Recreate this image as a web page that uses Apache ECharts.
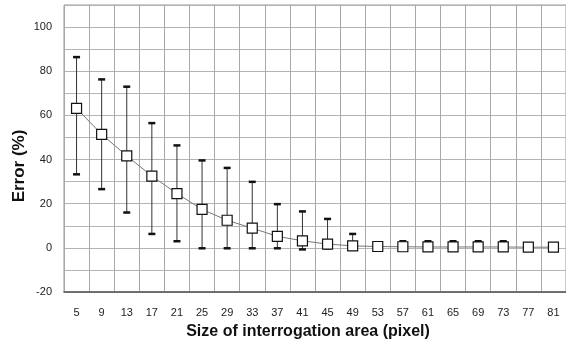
<!DOCTYPE html>
<html>
<head>
<meta charset="utf-8">
<script src="https://cdn.jsdelivr.net/npm/echarts@6/dist/echarts.min.js"></script>
<style>
  html, body { margin: 0; padding: 0; background: #fff; }
  #chart { width: 566px; height: 346px; }
</style>
</head>
<body>
<div id="chart"></div>
<script>
// Interrogation area sizes (pixel)
const sizes = ['5', '9', '13', '17', '21', '25', '29', '33', '37', '41',
               '45', '49', '53', '57', '61', '65', '69', '73', '77', '81'];
// Mean error (%)
const meanError = [63.2, 51.4, 41.7, 32.5, 24.6, 17.4, 12.5, 8.9, 5.2, 3.2,
                   1.7, 0.9, 0.6, 0.5, 0.4, 0.4, 0.4, 0.4, 0.3, 0.3];
// Upper and lower error-bar limits (%)
const upperError = [86.4, 76.3, 73.0, 56.5, 46.4, 39.6, 36.2, 29.9, 19.8, 16.5,
                    13.1, 6.3, 2.5, 3.0, 3.0, 3.0, 3.0, 3.0, 1.5, 1.5];
const lowerError = [33.3, 26.6, 16.0, 6.3, 3.0, -0.2, -0.2, -0.2, -0.2, -0.7,
                    -0.2, -0.2, -1.2, -1.0, -1.0, -1.0, -1.0, -1.0, -0.8, -0.8];
// Y axis range and labelled ticks
const yMin = -20, yMax = 110, yStep = 10, yLabelStep = 20;

const chart = echarts.init(document.getElementById('chart'), null, { renderer: 'canvas' });

const barData = sizes.map((s, i) => [i, lowerError[i], upperError[i]]);

const option = {
  animation: false,
  backgroundColor: '#ffffff',
  textStyle: { fontFamily: 'Liberation Sans, Arial, sans-serif' },
  grid: {
    left: 64, top: 5, width: 504, height: 287,
    show: true, borderColor: '#9a9a9a', borderWidth: 1
  },
  xAxis: {
    type: 'category',
    data: sizes,
    boundaryGap: true,
    axisLine: { show: true, onZero: false, lineStyle: { color: '#555', width: 1.5 } },
    axisTick: { show: false },
    axisLabel: { color: '#222', fontSize: 11, margin: 15, interval: 0,
                 fontFamily: 'Liberation Sans' },
    splitLine: { show: true, interval: 0, lineStyle: { color: '#a8a8a8', width: 1 } }
  },
  yAxis: {
    type: 'value',
    min: yMin, max: yMax, interval: yStep,
    axisLine: { show: false },
    axisTick: { show: false },
    axisLabel: {
      color: '#222', fontSize: 11, margin: 12, fontFamily: 'Liberation Sans',
      formatter: v => (v % yLabelStep === 0 && v <= 100) ? String(v) : ''
    },
    splitLine: { show: true, lineStyle: { color: '#b4b4b4', width: 1 } }
  },
  graphic: [
    {
      type: 'text', x: 19, y: 166, rotation: Math.PI / 2,
      style: { text: 'Error (%)', font: 'bold 17px "Liberation Sans", Arial, sans-serif',
               fill: '#111', align: 'center', verticalAlign: 'middle' }
    },
    {
      type: 'text', x: 308, y: 332,
      style: { text: 'Size of interrogation area (pixel)',
               font: 'bold 16px "Liberation Sans", Arial, sans-serif',
               fill: '#111', align: 'center', verticalAlign: 'middle' }
    }
  ],
  series: [
    {
      type: 'custom',
      name: 'range',
      z: 2,
      data: barData,
      renderItem: function (params, api) {
        const x = api.value(0);
        const lo = api.coord([x, api.value(1)]);
        const hi = api.coord([x, api.value(2)]);
        const cap = 3.5;
        return {
          type: 'group',
          children: [
            { type: 'line', shape: { x1: lo[0], y1: lo[1], x2: hi[0], y2: hi[1] },
              style: { stroke: '#333', lineWidth: 1 } },
            { type: 'line', shape: { x1: hi[0] - cap, y1: hi[1], x2: hi[0] + cap, y2: hi[1] },
              style: { stroke: '#111', lineWidth: 2.5 } },
            { type: 'line', shape: { x1: lo[0] - cap, y1: lo[1], x2: lo[0] + cap, y2: lo[1] },
              style: { stroke: '#111', lineWidth: 2.5 } }
          ]
        };
      }
    },
    {
      type: 'line',
      name: 'mean',
      z: 3,
      data: meanError,
      symbol: 'rect',
      symbolSize: 10,
      showAllSymbol: true,
      lineStyle: { color: '#777', width: 1 },
      itemStyle: { color: '#ffffff', borderColor: '#111', borderWidth: 1.2 }
    }
  ]
};

chart.setOption(option);
</script>
</body>
</html>
